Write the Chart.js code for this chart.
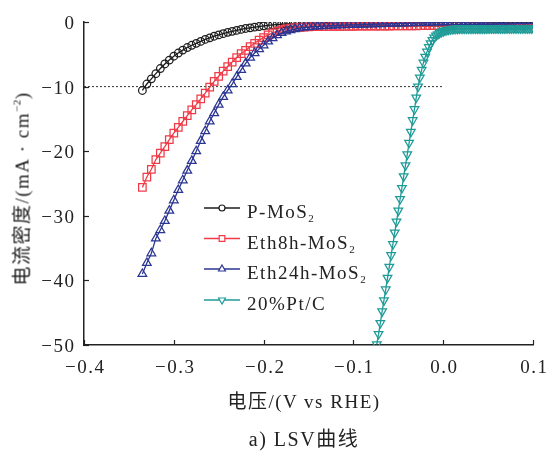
<!DOCTYPE html>
<html>
<head>
<meta charset="utf-8">
<script src="https://cdn.jsdelivr.net/npm/chart.js@4.4.1/dist/chart.umd.min.js"></script>
<style>
  html, body { margin: 0; padding: 0; background: #fff; }
  #wrap { width: 548px; height: 451px; position: relative; overflow: hidden; }
  #wrap canvas { position: absolute; left: 0; top: 0; }
  .lbl {
    position: absolute;
    font-family: 'Liberation Serif', 'Noto Sans CJK SC', serif;
    color: #222;
    letter-spacing: 1.5px;
    white-space: nowrap;
    text-align: center;
  }
  #xTitle { left: 154px; top: 392px; width: 300px; font-size: 19px; line-height: 19px; }
  #caption { left: 154px; top: 429px; width: 300px; font-size: 20px; line-height: 20px; }
  #yTitle {
    left: -108.5px; top: 178.5px; width: 260px; height: 19px;
    font-size: 19px; line-height: 19px;
    transform: rotate(-90deg);
  }
  #yTitle sup { font-size: 11px; vertical-align: 8px; line-height: 0; letter-spacing: 0.5px; }
</style>
</head>
<body>
<div id="wrap">
  <canvas id="lsvChart" width="548" height="451"></canvas>
  <div class="lbl" id="yTitle">电流密度/(mA · cm<sup>−2</sup>)</div>
  <div class="lbl" id="xTitle">电压/(V vs RHE)</div>
  <div class="lbl" id="caption">a) LSV曲线</div>
</div>
<script>
// Potential (V vs RHE) for the three MoS2 samples
const vMoS2 = [
  -0.335, -0.330, -0.325, -0.320, -0.315, -0.310, -0.305, -0.300, -0.295, -0.290,
  -0.285, -0.280, -0.275, -0.270, -0.265, -0.260, -0.255, -0.250, -0.245, -0.240,
  -0.235, -0.230, -0.225, -0.220, -0.215, -0.210, -0.205, -0.200, -0.195, -0.190,
  -0.185, -0.180, -0.175, -0.170, -0.165, -0.160, -0.155, -0.150, -0.145, -0.140,
  -0.135, -0.130, -0.125, -0.120, -0.115, -0.110, -0.105, -0.100, -0.095, -0.090,
  -0.085, -0.080, -0.075, -0.070, -0.065, -0.060, -0.055, -0.050, -0.045, -0.040,
  -0.035, -0.030, -0.025, -0.020, -0.015, -0.010, -0.005, 0.000, 0.005, 0.010,
  0.015, 0.020, 0.025, 0.030, 0.035, 0.040, 0.045, 0.050, 0.055, 0.060,
  0.065, 0.070, 0.075, 0.080, 0.085, 0.090, 0.095, 0.100
];

// Current density (mA/cm2)
const jPMoS2 = [
  -10.6, -9.6, -8.8, -8.0, -7.2, -6.5, -5.9, -5.3, -4.8, -4.35,
  -3.95, -3.6, -3.3, -3.0, -2.7, -2.45, -2.2, -2.0, -1.8, -1.6,
  -1.45, -1.3, -1.15, -1.0, -0.9, -0.8, -0.7, -0.6, -0.52, -0.45,
  -0.4, -0.35, -0.3, -0.27, -0.24, -0.22, -0.2, -0.19, -0.18, -0.18,
  -0.17, -0.17, -0.16, -0.16, -0.15, -0.15, -0.15, -0.14, -0.14, -0.14,
  -0.13, -0.13, -0.13, -0.13, -0.12, -0.12, -0.12, -0.12, -0.12, -0.11,
  -0.11, -0.11, -0.11, -0.11, -0.11, -0.10, -0.10, -0.10, -0.10, -0.10,
  -0.10, -0.10, -0.09, -0.09, -0.09, -0.09, -0.09, -0.09, -0.09, -0.08,
  -0.08, -0.08, -0.08, -0.08, -0.08, -0.08, -0.08, -0.08
];

const jEth8h = [
  -25.6, -24.0, -22.8, -21.3, -20.3, -19.3, -18.2, -17.2, -16.3, -15.4,
  -14.5, -13.6, -12.8, -11.9, -11.0, -10.1, -9.2, -8.4, -7.6, -6.9,
  -6.2, -5.5, -4.9, -4.4, -3.8, -3.3, -2.8, -2.4, -2.0, -1.7,
  -1.4, -1.2, -1.05, -0.95, -0.88, -0.82, -0.78, -0.75, -0.73, -0.72,
  -0.71, -0.70, -0.69, -0.68, -0.68, -0.67, -0.66, -0.66, -0.65, -0.65,
  -0.64, -0.64, -0.63, -0.63, -0.62, -0.62, -0.61, -0.61, -0.60, -0.60,
  -0.59, -0.59, -0.58, -0.58, -0.57, -0.57, -0.56, -0.56, -0.55, -0.55,
  -0.54, -0.54, -0.53, -0.53, -0.52, -0.52, -0.51, -0.51, -0.50, -0.50,
  -0.49, -0.49, -0.48, -0.48, -0.47, -0.47, -0.46, -0.46
];

const jEth24h = [
  -39.0, -37.3, -35.8, -33.5, -32.2, -30.8, -29.2, -27.6, -26.0, -24.5,
  -23.0, -21.5, -20.0, -18.4, -16.9, -15.4, -14.1, -12.8, -11.6, -10.6,
  -9.6, -8.5, -7.4, -6.4, -5.5, -4.8, -4.2, -3.6, -3.0, -2.5,
  -2.05, -1.7, -1.45, -1.25, -1.1, -0.95, -0.85, -0.78, -0.72, -0.67,
  -0.63, -0.59, -0.56, -0.53, -0.50, -0.47, -0.45, -0.43, -0.41, -0.39,
  -0.37, -0.35, -0.33, -0.31, -0.29, -0.27, -0.25, -0.23, -0.21, -0.19,
  -0.17, -0.15, -0.13, -0.11, -0.09, -0.08, -0.06, -0.05, -0.03, -0.02,
  -0.01, 0.00, 0.01, 0.02, 0.03, 0.04, 0.05, 0.06, 0.07, 0.08,
  0.09, 0.10, 0.11, 0.12, 0.13, 0.14, 0.15, 0.16
];

// 20% Pt/C was recorded on a finer potential grid
const vPtC = [
  -0.074, -0.072, -0.070, -0.068, -0.066, -0.064, -0.062, -0.060, -0.058, -0.056,
  -0.054, -0.052, -0.050, -0.048, -0.046, -0.044, -0.042, -0.040, -0.038, -0.036,
  -0.034, -0.032, -0.030, -0.028, -0.026, -0.024, -0.022, -0.020, -0.018, -0.016,
  -0.014, -0.012, -0.010, -0.008, -0.006, -0.004, -0.002, 0.000, 0.002, 0.004,
  0.006, 0.008, 0.010, 0.012, 0.014, 0.016, 0.018, 0.020, 0.022, 0.024,
  0.026, 0.028, 0.030, 0.032, 0.034, 0.036, 0.038, 0.040, 0.042, 0.044,
  0.046, 0.048, 0.050, 0.052, 0.054, 0.056, 0.058, 0.060, 0.062, 0.064,
  0.066, 0.068, 0.070, 0.072, 0.074, 0.076, 0.078, 0.080, 0.082, 0.084,
  0.086, 0.088, 0.090, 0.092, 0.094, 0.096, 0.098, 0.100
];

const jPtC = [
  -49.9, -48.3, -46.6, -44.8, -43.1, -41.4, -39.6, -37.9, -36.1, -34.4,
  -32.6, -30.9, -29.2, -27.4, -25.7, -23.9, -22.2, -20.5, -18.7, -17.0,
  -15.2, -13.5, -11.7, -10.0, -8.6, -7.4, -6.3, -5.4, -4.6, -3.9,
  -3.3, -2.8, -2.4, -2.1, -1.9, -1.7, -1.55, -1.42, -1.32, -1.24,
  -1.18, -1.13, -1.09, -1.06, -1.04, -1.03, -1.02, -1.01, -1.01, -1.00,
  -1.00, -1.00, -1.00, -1.00, -0.99, -0.99, -0.99, -0.99, -0.99, -0.99,
  -0.99, -0.99, -0.98, -0.98, -0.98, -0.98, -0.98, -0.98, -0.98, -0.98,
  -0.98, -0.98, -0.98, -0.97, -0.97, -0.97, -0.97, -0.97, -0.97, -0.97,
  -0.97, -0.97, -0.97, -0.97, -0.97, -0.97, -0.97, -0.97
];

// 10 mA/cm2 reference line
const refLineX = [-0.4, 0.0];
const refLineY = [-10, -10];

const seriesLabels = ['P-MoS', 'Eth8h-MoS', 'Eth24h-MoS', '20%Pt/C'];
const seriesSubs = ['2', '2', '2', ''];
const xTicks = [-0.4, -0.3, -0.2, -0.1, 0.0, 0.1];
const yTicks = [0, -10, -20, -30, -40, -50];

const SERIF = "'Liberation Serif', 'Noto Sans CJK SC', serif";
const AXIS = '#222';
const SPACING = 1.5;

function toPoints(xs, ys) {
  return xs.map((x, i) => ({ x: x, y: ys[i] }));
}

function fmt(v, digits) {
  const s = digits ? Math.abs(v).toFixed(digits) : String(Math.abs(v));
  return v < -1e-9 ? '\u2212' + s : s;
}

// draw text char by char so the loose tracking of the original can be kept
function spacedWidth(ctx, text) {
  let w = 0;
  for (const ch of text) w += ctx.measureText(ch).width + SPACING;
  return w - SPACING;
}

function drawSpaced(ctx, text, x, y, align) {
  const w = spacedWidth(ctx, text);
  let cx = align === 'center' ? x - w / 2 : align === 'right' ? x - w : x;
  ctx.textAlign = 'left';
  for (const ch of text) {
    ctx.fillText(ch, cx, y);
    cx += ctx.measureText(ch).width + SPACING;
  }
  return w;
}

const styles = [
  { color: '#1c1c1c', point: 'circle', radius: 3.8, legendRadius: 3, rotation: 0 },
  { color: '#ef3b48', point: 'rect', radius: 5.3, legendRadius: 4, rotation: 0 },
  { color: '#2b3592', point: 'triangle', radius: 5.0, legendRadius: 4, rotation: 0 },
  { color: '#1f9b97', point: 'triangle', radius: 5.0, legendRadius: 4, rotation: 180 }
];

const seriesData = [
  toPoints(vMoS2, jPMoS2),
  toPoints(vMoS2, jEth8h),
  toPoints(vMoS2, jEth24h),
  toPoints(vPtC, jPtC)
];

const datasets = seriesData.map((pts, i) => ({
  label: seriesLabels[i] + seriesSubs[i],
  data: pts,
  showLine: true,
  borderColor: styles[i].color,
  borderWidth: 1.3,
  pointStyle: styles[i].point,
  pointRadius: styles[i].radius,
  pointRotation: styles[i].rotation,
  pointBorderColor: styles[i].color,
  pointBorderWidth: 1.25,
  pointBackgroundColor: 'rgba(255,255,255,0)',
  order: 4 - i
}));

datasets.push({
  label: 'ref',
  data: toPoints(refLineX, refLineY),
  showLine: true,
  borderColor: '#333',
  borderWidth: 1,
  borderDash: [2, 2],
  pointRadius: 0,
  order: 5
});

// inward ticks, tick labels and the legend
const decorPlugin = {
  id: 'decor',
  afterDraw(chart) {
    const { ctx, chartArea: a, scales: { x, y } } = chart;
    ctx.save();
    ctx.strokeStyle = AXIS;
    ctx.fillStyle = AXIS;
    ctx.lineWidth = 1.2;
    ctx.textBaseline = 'alphabetic';
    ctx.font = '19px ' + SERIF;

    xTicks.forEach(v => {
      const px = Math.round(x.getPixelForValue(v)) + 0.5;
      ctx.beginPath();
      ctx.moveTo(px, a.bottom);
      ctx.lineTo(px, a.bottom - 5);
      ctx.stroke();
      drawSpaced(ctx, fmt(v, 1), px, a.bottom + 28, 'center');
    });
    yTicks.forEach(v => {
      const py = Math.round(y.getPixelForValue(v)) + 0.5;
      ctx.beginPath();
      ctx.moveTo(a.left, py);
      ctx.lineTo(a.left + 5, py);
      ctx.stroke();
      drawSpaced(ctx, fmt(v, 0), a.left - 10, py + 6.5, 'right');
    });

    // legend
    const rows = [208, 238.5, 269, 300];
    rows.forEach((ry, i) => {
      const st = styles[i];
      ctx.strokeStyle = st.color;
      ctx.lineWidth = 1.5;
      ctx.beginPath();
      ctx.moveTo(204, ry);
      ctx.lineTo(240, ry);
      ctx.stroke();
      ctx.lineWidth = 1.2;
      ctx.fillStyle = '#fff';
      Chart.helpers.drawPoint(ctx, {
        pointStyle: st.point,
        rotation: st.rotation,
        radius: st.legendRadius,
        borderWidth: 1.2
      }, 222, ry);
      ctx.fillStyle = AXIS;
      ctx.font = '19px ' + SERIF;
      const w = drawSpaced(ctx, seriesLabels[i], 247, ry + 10, 'left');
      if (seriesSubs[i]) {
        ctx.font = '11px ' + SERIF;
        ctx.fillText(seriesSubs[i], 247 + w + 1.5, ry + 14);
      }
    });
    ctx.restore();
  }
};

let lsvChart = null;

function createLsvChart() {
  const canvas = document.getElementById('lsvChart');
  if (!canvas) return;

  lsvChart = new Chart(canvas, {
    type: 'scatter',
    data: { datasets: datasets },
    plugins: [decorPlugin],
    options: {
      responsive: false,
      animation: false,
      devicePixelRatio: 1,
      layout: { padding: { top: 22, right: 15, left: 0, bottom: 0 } },
      plugins: {
        legend: { display: false },
        tooltip: { enabled: false }
      },
      scales: {
        x: {
          type: 'linear',
          min: -0.4,
          max: 0.1,
          afterFit: s => { s.height = 106; },
          afterBuildTicks: s => { s.ticks = xTicks.map(v => ({ value: v })); },
          grid: { display: false, drawTicks: false },
          border: { display: true, color: AXIS, width: 1.5 },
          ticks: { display: false }
        },
        y: {
          type: 'linear',
          min: -50,
          max: 0,
          afterFit: s => { s.width = 84; },
          afterBuildTicks: s => { s.ticks = yTicks.map(v => ({ value: v })); },
          grid: { display: false, drawTicks: false },
          border: { display: true, color: AXIS, width: 1.5 },
          ticks: { display: false }
        }
      }
    }
  });
}

createLsvChart();
</script>
</body>
</html>
